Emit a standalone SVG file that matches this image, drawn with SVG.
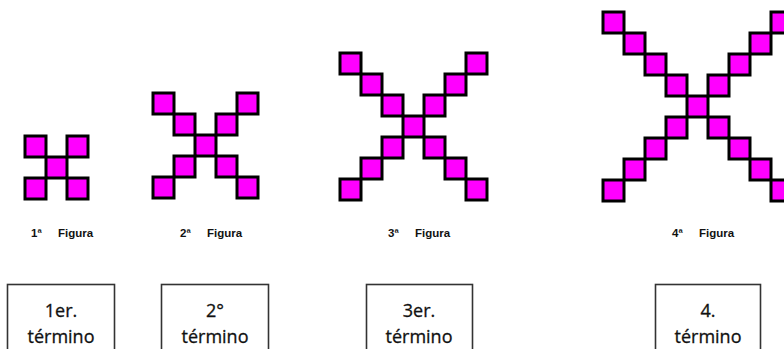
<svg xmlns="http://www.w3.org/2000/svg" xmlns:xlink="http://www.w3.org/1999/xlink" width="784" height="349" viewBox="0 0 784 349">
<style>
.sq{fill:#ff00ff;stroke:#000;stroke-width:3}
.lbl{font-family:"Liberation Sans",Arial,sans-serif;font-weight:bold;font-size:11.5px;fill:#111}
.box{fill:#fff;stroke:#333;stroke-width:1.6}
.bt{font-family:"Open Sans","Liberation Sans",sans-serif;font-size:18px;fill:#111;stroke:#111;stroke-width:0.3;text-anchor:middle}
</style>
<defs>
<rect id="s" class="sq" width="21" height="21"/>
</defs>
<rect width="784" height="349" fill="#fff"/>
<g id="figura1">
<use xlink:href="#s" x="25" y="136"/><use xlink:href="#s" x="46" y="157"/><use xlink:href="#s" x="67" y="178"/>
<use xlink:href="#s" x="67" y="136"/><use xlink:href="#s" x="25" y="178"/>
<text class="lbl" x="31" y="237">1ª</text><text class="lbl" x="58" y="237">Figura</text>
</g>
<g id="figura2">
<use xlink:href="#s" x="153" y="93"/><use xlink:href="#s" x="174" y="114"/><use xlink:href="#s" x="195" y="135"/><use xlink:href="#s" x="216" y="156"/><use xlink:href="#s" x="237" y="177"/>
<use xlink:href="#s" x="237" y="93"/><use xlink:href="#s" x="216" y="114"/><use xlink:href="#s" x="174" y="156"/><use xlink:href="#s" x="153" y="177"/>
<text class="lbl" x="180" y="237">2ª</text><text class="lbl" x="207" y="237">Figura</text>
</g>
<g id="figura3">
<use xlink:href="#s" x="340" y="53"/><use xlink:href="#s" x="361" y="74"/><use xlink:href="#s" x="382" y="95"/><use xlink:href="#s" x="403" y="116"/><use xlink:href="#s" x="424" y="137"/><use xlink:href="#s" x="445" y="158"/><use xlink:href="#s" x="466" y="179"/>
<use xlink:href="#s" x="466" y="53"/><use xlink:href="#s" x="445" y="74"/><use xlink:href="#s" x="424" y="95"/><use xlink:href="#s" x="382" y="137"/><use xlink:href="#s" x="361" y="158"/><use xlink:href="#s" x="340" y="179"/>
<text class="lbl" x="388" y="237">3ª</text><text class="lbl" x="415" y="237">Figura</text>
</g>
<g id="figura4">
<use xlink:href="#s" x="603" y="12"/><use xlink:href="#s" x="624" y="33"/><use xlink:href="#s" x="645" y="54"/><use xlink:href="#s" x="666" y="75"/><use xlink:href="#s" x="687" y="96"/><use xlink:href="#s" x="708" y="117"/><use xlink:href="#s" x="729" y="138"/><use xlink:href="#s" x="750" y="159"/><use xlink:href="#s" x="771" y="180"/>
<use xlink:href="#s" x="771" y="12"/><use xlink:href="#s" x="750" y="33"/><use xlink:href="#s" x="729" y="54"/><use xlink:href="#s" x="708" y="75"/><use xlink:href="#s" x="666" y="117"/><use xlink:href="#s" x="645" y="138"/><use xlink:href="#s" x="624" y="159"/><use xlink:href="#s" x="603" y="180"/>
<text class="lbl" x="672" y="237">4ª</text><text class="lbl" x="699" y="237">Figura</text>
</g>
<g id="termino1">
<rect class="box" x="7.5" y="284.5" width="107" height="80"/>
<text class="bt" x="61" y="317">1er.</text><text class="bt" x="61" y="343">término</text>
</g>
<g id="termino2">
<rect class="box" x="161.5" y="284.5" width="107" height="80"/>
<text class="bt" x="215" y="317">2°</text><text class="bt" x="215" y="343">término</text>
</g>
<g id="termino3">
<rect class="box" x="366.5" y="284.5" width="106" height="80"/>
<text class="bt" x="419" y="317">3er.</text><text class="bt" x="419" y="343">término</text>
</g>
<g id="termino4">
<rect class="box" x="655.5" y="284.5" width="105" height="80"/>
<text class="bt" x="708" y="317">4.</text><text class="bt" x="708" y="343">término</text>
</g>
</svg>
